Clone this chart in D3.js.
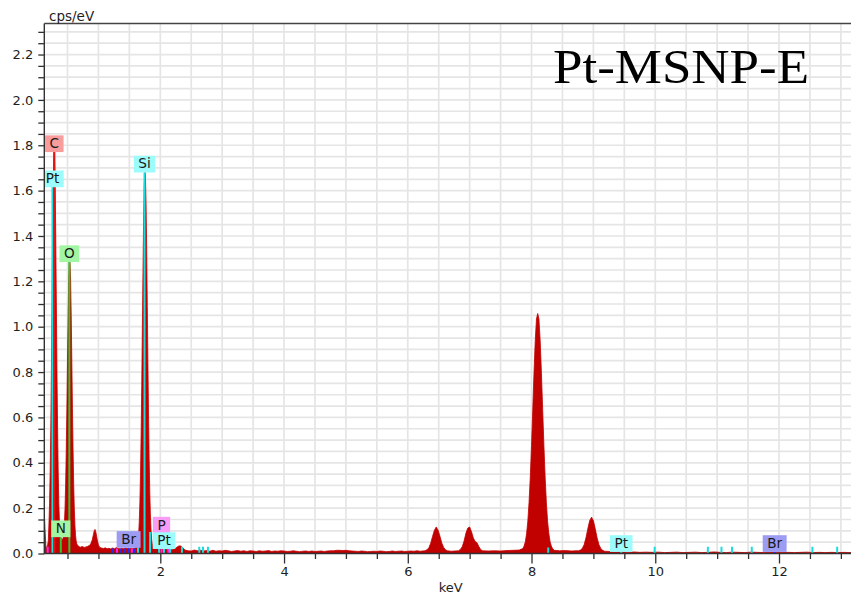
<!DOCTYPE html>
<html>
<head>
<meta charset="utf-8">
<script src="https://cdn.jsdelivr.net/npm/d3@7"></script>
<style>
  body { margin: 0; background: #ffffff; }
  svg text { font-family: "DejaVu Sans", Verdana, sans-serif; }
</style>
</head>
<body>
<svg id="chart" width="851" height="596"></svg>
<script>
// EDS spectrum: [energy keV, counts per eV]
const spectrum = [
  [0.12,0.17],[0.13,0.15],[0.14,0.09],[0.15,0.035],[0.16,0.02],[0.17,0.03],[0.18,0.04],[0.19,0.055],
  [0.20,0.13],[0.21,0.22],[0.22,0.36],[0.23,0.55],[0.24,0.81],[0.25,1.11],[0.26,1.41],[0.27,1.645],[0.28,1.77],[0.29,1.77],
  [0.30,1.64],[0.31,1.40],[0.32,1.10],[0.33,0.80],[0.34,0.55],[0.35,0.36],[0.36,0.22],[0.37,0.14],[0.38,0.09],[0.39,0.07],
  [0.40,0.065],[0.41,0.06],[0.42,0.062],[0.43,0.07],[0.44,0.09],
  [0.45,0.13],[0.46,0.20],[0.47,0.305],[0.48,0.456],[0.49,0.64],[0.50,0.85],[0.51,1.05],[0.52,1.21],[0.53,1.285],[0.54,1.285],
  [0.55,1.21],[0.56,1.05],[0.57,0.85],[0.58,0.64],[0.59,0.456],[0.60,0.305],[0.61,0.20],[0.62,0.125],[0.63,0.08],[0.64,0.055],
  [0.65,0.042],[0.67,0.034],[0.69,0.03],[0.71,0.028],[0.74,0.031],[0.77,0.027],[0.80,0.029],[0.83,0.032],[0.86,0.036],[0.88,0.045],
  [0.90,0.06],[0.92,0.085],[0.935,0.103],[0.945,0.106],[0.96,0.092],[0.98,0.062],[1.00,0.038],[1.02,0.027],
  [1.05,0.024],[1.08,0.022],[1.11,0.025],[1.14,0.021],[1.17,0.023],[1.20,0.02],[1.23,0.024],[1.26,0.021],[1.29,0.026],[1.32,0.022],
  [1.35,0.02],[1.38,0.023],[1.41,0.021],[1.44,0.024],[1.47,0.022],[1.50,0.02],[1.53,0.023],[1.56,0.021],[1.59,0.024],
  [1.62,0.03],[1.63,0.038],[1.64,0.055],[1.65,0.085],[1.66,0.14],[1.67,0.225],[1.68,0.35],[1.69,0.525],[1.70,0.74],[1.71,0.99],
  [1.72,1.24],[1.73,1.465],[1.74,1.62],[1.75,1.68],[1.755,1.68],[1.76,1.66],[1.77,1.54],[1.78,1.335],[1.79,1.09],[1.80,0.84],
  [1.81,0.61],[1.82,0.415],[1.83,0.27],[1.84,0.17],[1.85,0.104],[1.86,0.064],[1.87,0.042],[1.88,0.03],[1.90,0.024],[1.93,0.02],
  [1.96,0.022],[1.99,0.019],[2.02,0.021],[2.05,0.018],[2.08,0.02],[2.11,0.017],[2.14,0.019],[2.17,0.016],[2.20,0.018],[2.23,0.02],
  [2.26,0.026],[2.29,0.032],[2.32,0.034],[2.35,0.029],[2.38,0.02],[2.41,0.014],[2.45,0.012],
  [2.50,0.011],[2.55,0.015],[2.60,0.012],[2.65,0.014],[2.70,0.011],[2.75,0.013],[2.80,0.010],[2.85,0.014],[2.90,0.010],[2.95,0.012],
  [3.00,0.011],[3.05,0.014],[3.10,0.012],[3.15,0.009],[3.20,0.011],[3.25,0.013],[3.30,0.010],[3.35,0.012],[3.40,0.009],[3.45,0.012],
  [3.50,0.011],[3.55,0.009],[3.60,0.012],[3.65,0.010],[3.70,0.011],[3.75,0.013],[3.80,0.009],[3.85,0.011],[3.90,0.010],[3.95,0.012],
  [4.00,0.011],[4.05,0.009],[4.10,0.010],[4.15,0.012],[4.20,0.010],[4.25,0.008],[4.30,0.010],[4.35,0.011],[4.40,0.009],[4.45,0.011],
  [4.50,0.009],[4.55,0.010],[4.60,0.011],[4.65,0.009],[4.70,0.011],[4.75,0.012],[4.80,0.012],[4.85,0.014],[4.90,0.014],[4.95,0.013],
  [5.00,0.014],[5.05,0.012],[5.10,0.011],[5.15,0.010],[5.20,0.009],[5.25,0.011],[5.30,0.010],[5.35,0.008],[5.40,0.009],[5.45,0.010],
  [5.50,0.009],[5.55,0.011],[5.60,0.010],[5.65,0.008],[5.70,0.009],[5.75,0.011],[5.80,0.009],[5.85,0.010],[5.90,0.011],[5.95,0.009],
  [6.00,0.010],[6.05,0.011],[6.10,0.010],[6.15,0.012],[6.20,0.010],
  [6.28,0.012],[6.31,0.016],[6.34,0.025],[6.37,0.045],[6.40,0.075],[6.43,0.102],[6.46,0.117],[6.49,0.103],[6.52,0.076],[6.55,0.046],
  [6.58,0.027],[6.61,0.016],[6.64,0.012],[6.70,0.010],[6.76,0.011],
  [6.82,0.012],[6.85,0.018],[6.88,0.03],[6.91,0.055],[6.94,0.09],[6.97,0.112],[7.00,0.117],[7.03,0.096],[7.06,0.068],[7.09,0.053],
  [7.12,0.047],[7.15,0.03],[7.18,0.017],[7.21,0.012],[7.30,0.011],[7.40,0.012],[7.50,0.011],[7.60,0.013],[7.70,0.014],[7.80,0.015],
  [7.86,0.022],[7.88,0.033],[7.90,0.052],[7.92,0.087],[7.94,0.142],[7.96,0.225],[7.98,0.337],[8.00,0.477],[8.02,0.635],[8.04,0.797],
  [8.06,0.938],[8.08,1.034],[8.10,1.058],[8.12,1.034],[8.14,0.938],[8.16,0.797],[8.18,0.635],[8.20,0.477],[8.22,0.337],[8.24,0.225],
  [8.26,0.142],[8.28,0.087],[8.30,0.052],[8.32,0.033],[8.34,0.022],[8.37,0.014],[8.45,0.012],[8.55,0.013],[8.65,0.011],[8.72,0.012],
  [8.76,0.012],[8.79,0.015],[8.82,0.022],[8.85,0.039],[8.88,0.069],[8.91,0.109],[8.94,0.145],[8.97,0.16],[9.00,0.145],[9.03,0.109],
  [9.06,0.069],[9.09,0.039],[9.12,0.022],[9.15,0.014],[9.18,0.010],
  [9.25,0.009],[9.35,0.007],[9.45,0.008],[9.55,0.006],[9.65,0.007],[9.75,0.005],[9.85,0.006],[9.95,0.005],[10.05,0.006],[10.15,0.004],
  [10.25,0.005],[10.35,0.006],[10.45,0.004],[10.55,0.005],[10.65,0.006],[10.75,0.004],[10.85,0.005],[10.95,0.007],[11.05,0.005],[11.15,0.004],
  [11.25,0.006],[11.35,0.005],[11.45,0.004],[11.55,0.006],[11.65,0.005],[11.75,0.004],[11.85,0.005],[11.95,0.006],[12.05,0.004],[12.15,0.005],
  [12.25,0.004],[12.35,0.005],[12.45,0.006],[12.55,0.004],[12.65,0.005],[12.75,0.004],[12.85,0.005],[12.95,0.004],[13.05,0.005],[13.15,0.004],
  [13.25,0.005]
];

// Identified element lines with labels: symbol, energy (keV), line top (cps/eV), family
const elementLines = [
  { el: "Pt", keV: 0.257, top: 1.615, fam: "cyan" },
  { el: "C",  keV: 0.287, top: 1.77,  fam: "red" },
  { el: "N",  keV: 0.392, top: 0.072, fam: "green" },
  { el: "O",  keV: 0.530, top: 1.285, fam: "green" },
  { el: "Br", keV: 1.488, top: 0.025, fam: "blue" },
  { el: "Si", keV: 1.745, top: 1.68,  fam: "cyan" },
  { el: "P",  keV: 2.020, top: 0.088, fam: "magenta" },
  { el: "Pt", keV: 2.060, top: 0.02,  fam: "cyan" },
  { el: "Pt", keV: 9.450, top: 0.007, fam: "cyan" },
  { el: "Br", keV: 11.93, top: 0.007, fam: "blue" }
];

// Secondary line markers without labels: [keV, top, family]
const minorLines = [
  [0.18, 0.03, "magenta"],
  [1.23, 0.022, "blue"], [1.30, 0.022, "magenta"], [1.35, 0.022, "blue"], [1.43, 0.022, "blue"],
  [1.54, 0.022, "magenta"], [1.59, 0.022, "blue"], [1.64, 0.03, "cyan"],
  [1.835, 0.095, "cyan"], [1.98, 0.022, "cyan"], [2.13, 0.024, "magenta"], [2.16, 0.022, "cyan"],
  [2.35, 0.03, "cyan"], [2.63, 0.03, "cyan"], [2.69, 0.03, "cyan"], [2.77, 0.03, "cyan"],
  [8.27, 0.026, "cyan"], [9.99, 0.03, "cyan"], [10.85, 0.03, "cyan"], [11.07, 0.03, "cyan"],
  [11.24, 0.03, "cyan"], [11.56, 0.03, "cyan"], [12.54, 0.03, "cyan"], [12.94, 0.03, "cyan"]
];

const yLabelValues = [0, 0.2, 0.4, 0.6, 0.8, 1.0, 1.2, 1.4, 1.6, 1.8, 2.0, 2.2];
const xLabelValues = [2, 4, 6, 8, 10, 12];

const lineColor = { cyan: "#1cdcdc", red: "#e81414", green: "#33c433", blue: "#2a2aee", magenta: "#f526f5" };
const boxColor  = { cyan: "#9cfcfc", red: "#f99c9c", green: "#a2f5a2", blue: "#9c9cf2", magenta: "#f99cf7" };

const svg = d3.select("#chart");
const plot = { left: 44.3, top: 23.5, right: 851, bottom: 553.5 };

const x = d3.scaleLinear().domain([0, 13]).range([36.56, 36.56 + 61.87 * 13]);
const y = d3.scaleLinear().domain([0, 2]).range([plot.bottom, plot.bottom - 2 * 226.8]);

svg.append("defs").append("clipPath").attr("id", "plotClip")
  .append("rect")
  .attr("x", plot.left).attr("y", plot.top)
  .attr("width", plot.right - plot.left).attr("height", plot.bottom - plot.top);

const body = svg.append("g").attr("clip-path", "url(#plotClip)");

// grid
const xGrid = d3.range(1, 28).map(i => i * 0.5);
const yGrid = d3.range(1, 47).map(i => +(i * 0.05).toFixed(2));
body.append("g").selectAll("line").data(xGrid).join("line")
  .attr("x1", d => x(d)).attr("x2", d => x(d))
  .attr("y1", plot.top).attr("y2", plot.bottom)
  .attr("stroke", "#e5e5e5").attr("stroke-width", 1.7);
body.append("g").selectAll("line").data(yGrid).join("line")
  .attr("x1", plot.left).attr("x2", plot.right)
  .attr("y1", d => y(d)).attr("y2", d => y(d))
  .attr("stroke", "#e5e5e5").attr("stroke-width", 1.7);

// spectrum
const area = d3.area()
  .x(d => x(d[0]))
  .y0(y(0))
  .y1(d => y(d[1]));
body.append("path").datum(spectrum)
  .attr("d", area)
  .attr("fill", "#c10000")
  .attr("stroke", "#c10000")
  .attr("stroke-width", 0.8)
  .attr("stroke-linejoin", "round");

// line markers
body.append("g").selectAll("line").data(minorLines).join("line")
  .attr("x1", d => x(d[0])).attr("x2", d => x(d[0]))
  .attr("y1", y(0)).attr("y2", d => y(d[1]))
  .attr("stroke", d => lineColor[d[2]]).attr("stroke-width", 2);
body.append("g").selectAll("line").data(elementLines).join("line")
  .attr("x1", d => x(d.keV)).attr("x2", d => x(d.keV))
  .attr("y1", y(0)).attr("y2", d => y(d.top))
  .attr("stroke", d => lineColor[d.fam]).attr("stroke-width", 2);

// element labels
const boxH = 16.7;
const labels = body.append("g").selectAll("g").data(elementLines).join("g");
labels.each(function (d) {
  const g = d3.select(this);
  const cx = x(d.keV), by = y(d.top);
  const rect = g.append("rect");
  const t = g.append("text")
    .attr("x", cx).attr("y", by - 4)
    .attr("text-anchor", "middle")
    .attr("font-size", 13.6)
    .attr("fill", "#1a1a1a")
    .text(d.el);
  const w = t.node().getComputedTextLength() + 9;
  rect.attr("x", cx - w / 2).attr("y", by - boxH)
    .attr("width", w).attr("height", boxH)
    .attr("fill", boxColor[d.fam]);
});

// axes
const yMinor = d3.range(0, 47).map(i => +(i * 0.05).toFixed(2));
const yAxis = d3.axisLeft(y)
  .tickValues(yMinor)
  .tickSize(6)
  .tickPadding(5)
  .tickFormat(d => yLabelValues.some(v => Math.abs(v - d) < 1e-6) ? d3.format(".1f")(d) : "");
const gy = svg.append("g").attr("transform", `translate(${plot.left},0)`).call(yAxis);
gy.select(".domain").remove();

const xMinor = d3.range(1, 27).map(i => i * 0.5).filter(v => !xLabelValues.includes(v));
const gxMinor = svg.append("g").attr("transform", `translate(0,${plot.bottom})`)
  .call(d3.axisBottom(x).tickValues(xMinor).tickSize(5.5).tickFormat(""));
gxMinor.select(".domain").remove();
const gx = svg.append("g").attr("transform", `translate(0,${plot.bottom})`)
  .call(d3.axisBottom(x).tickValues(xLabelValues).tickSize(10).tickPadding(3).tickFormat(d3.format("d")));
gx.select(".domain").remove();

svg.selectAll(".tick line").attr("stroke", "#303030").attr("stroke-width", 1.3);
svg.selectAll(".tick text")
  .attr("font-family", "'DejaVu Sans', Verdana, sans-serif")
  .attr("font-size", 13)
  .attr("fill", "#1e1e1e");

// frame lines
svg.append("line")
  .attr("x1", plot.left).attr("x2", plot.left)
  .attr("y1", plot.top).attr("y2", plot.bottom + 0.6)
  .attr("stroke", "#333").attr("stroke-width", 1.4);
svg.append("line")
  .attr("x1", plot.left).attr("x2", plot.right)
  .attr("y1", plot.bottom).attr("y2", plot.bottom)
  .attr("stroke", "#333").attr("stroke-width", 1.4);
svg.append("line")
  .attr("x1", plot.left).attr("x2", plot.right)
  .attr("y1", plot.top).attr("y2", plot.top)
  .attr("stroke", "#444").attr("stroke-width", 1.4);

// axis titles
svg.append("text")
  .attr("x", 49).attr("y", 20.5)
  .attr("font-size", 13.5).attr("fill", "#1e1e1e")
  .text("cps/eV");
svg.append("text")
  .attr("x", 450.7).attr("y", 592)
  .attr("text-anchor", "middle")
  .attr("font-size", 13).attr("fill", "#1e1e1e")
  .text("keV");

// sample name
svg.append("text")
  .attr("x", 553).attr("y", 83.3)
  .attr("font-size", 48)
  .attr("textLength", 256)
  .attr("lengthAdjust", "spacingAndGlyphs")
  .attr("fill", "#000")
  .style("font-family", "'Liberation Serif', 'Times New Roman', serif")
  .text("Pt-MSNP-E");
</script>
</body>
</html>
